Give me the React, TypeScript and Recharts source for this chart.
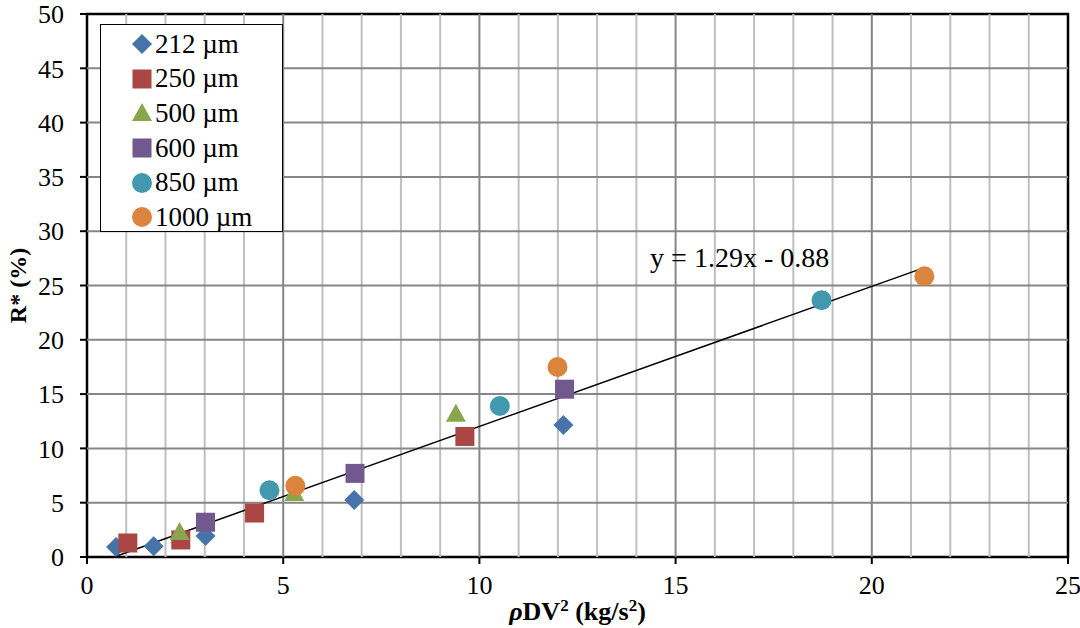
import React from "react";
import {
  ScatterChart,
  Scatter,
  XAxis,
  YAxis,
  ReferenceLine,
  ReferenceArea,
  ReferenceDot,
} from "recharts";

/* ---------- data ---------- */
type Pt = { x: number; y: number };

const s212: Pt[] = [
  { x: 0.74, y: 0.92 },
  { x: 1.7, y: 1.0 },
  { x: 3.02, y: 1.93 },
  { x: 6.81, y: 5.25 },
  { x: 12.14, y: 12.15 },
];
const s250: Pt[] = [
  { x: 1.04, y: 1.29 },
  { x: 2.39, y: 1.57 },
  { x: 4.27, y: 4.05 },
  { x: 9.63, y: 11.1 },
];
const s500: Pt[] = [
  { x: 2.36, y: 2.3 },
  { x: 5.28, y: 5.9 },
  { x: 9.4, y: 13.2 },
];
const s600: Pt[] = [
  { x: 3.02, y: 3.2 },
  { x: 6.83, y: 7.7 },
  { x: 12.17, y: 15.45 },
];
const s850: Pt[] = [
  { x: 4.65, y: 6.15 },
  { x: 10.52, y: 13.9 },
  { x: 18.72, y: 23.65 },
];
const s1000: Pt[] = [
  { x: 5.31, y: 6.55 },
  { x: 11.99, y: 17.5 },
  { x: 21.34, y: 25.85 },
];

const xTicks = [0, 5, 10, 15, 20, 25];
const yTicks = [0, 5, 10, 15, 20, 25, 30, 35, 40, 45, 50];
const minorX = [1, 2, 3, 4, 6, 7, 8, 9, 11, 12, 13, 14, 16, 17, 18, 19, 21, 22, 23, 24];

// trendline y = 1.29x - 0.88, drawn over the fitted x range
const slope = 1.29;
const intercept = -0.88;
const fitRange = [0.74, 21.34];
const trendLabel = "y = 1.29x - 0.88";

/* ---------- styles ---------- */
const FONT = "'Liberation Serif', Tinos, 'DejaVu Serif', serif";
const C = {
  blue: "#4673AA",
  red: "#AA4643",
  green: "#89A54E",
  purple: "#71588F",
  teal: "#4198AF",
  orange: "#DB843D",
};

/* ---------- marker shapes ---------- */
const Diamond = ({ cx, cy, fill }: any) => (
  <path d={`M${cx},${cy - 10} L${cx + 10},${cy} L${cx},${cy + 10} L${cx - 10},${cy} Z`} fill={fill} />
);
const Square = ({ cx, cy, fill }: any) => (
  <rect x={cx - 9.5} y={cy - 9.5} width={19} height={19} fill={fill} />
);
const Triangle = ({ cx, cy, fill }: any) => (
  <path d={`M${cx},${cy - 10} L${cx + 10},${cy + 8} L${cx - 10},${cy + 8} Z`} fill={fill} />
);
const Circle = ({ cx, cy, fill }: any) => <circle cx={cx} cy={cy} r={10} fill={fill} />;

const series = [
  { name: "212 µm", data: s212, color: C.blue, Shape: Diamond },
  { name: "250 µm", data: s250, color: C.red, Shape: Square },
  { name: "500 µm", data: s500, color: C.green, Shape: Triangle },
  { name: "600 µm", data: s600, color: C.purple, Shape: Square },
  { name: "850 µm", data: s850, color: C.teal, Shape: Circle },
  { name: "1000 µm", data: s1000, color: C.orange, Shape: Circle },
];

/* ---------- legend (boxed, top-left of plot) ---------- */
const LegendBox = () => (
  <div
    style={{
      position: "absolute",
      left: 100,
      top: 24,
      width: 183,
      height: 208,
      border: "1.5px solid #000",
      background: "#fff",
      boxSizing: "border-box",
      fontFamily: FONT,
      fontSize: 27,
      lineHeight: 1,
      paddingTop: 2,
    }}
  >
    {series.map((s) => (
      <div key={s.name} style={{ height: 34.6, display: "flex", alignItems: "center" }}>
        <svg width={24} height={24} style={{ marginLeft: 29, marginRight: 1 }}>
          <s.Shape cx={12} cy={12} fill={s.color} />
        </svg>
        <span>{s.name}</span>
      </div>
    ))}
  </div>
);

/* ---------- axis titles ---------- */
const XTitle = ({ viewBox }: any) => {
  const cx = viewBox.x + viewBox.width / 2;
  return (
    <text x={cx} y={620} textAnchor="middle" fill="#000" style={{ fontFamily: FONT, fontSize: 26, fontWeight: "bold" }}>
      <tspan fontStyle="italic">ρ</tspan>
      <tspan>DV</tspan>
      <tspan fontSize={17} dy={-9}>2</tspan>
      <tspan dy={9}> (kg/s</tspan>
      <tspan fontSize={17} dy={-9}>2</tspan>
      <tspan dy={9}>)</tspan>
    </text>
  );
};

const YTitle = ({ viewBox }: any) => {
  const cy = viewBox.y + viewBox.height / 2;
  return (
    <text
      x={26}
      y={cy}
      transform={`rotate(-90, 26, ${cy})`}
      textAnchor="middle"
      fill="#000"
      style={{ fontFamily: FONT, fontSize: 24, fontWeight: "bold" }}
    >
      R* (%)
    </text>
  );
};

const tickText = { fontFamily: FONT, fontSize: 26, fill: "#000" };

/* ---------- component ---------- */
export default function App() {
  return (
    <div
      style={{ position: "absolute", left: 0, top: 0, width: 1080, height: 628, background: "#fff", fontFamily: FONT }}
    >
      <ScatterChart width={1080} height={628} margin={{ top: 14, right: 12, bottom: 0, left: 0 }}>
        <XAxis
          type="number"
          dataKey="x"
          domain={[0, 25]}
          ticks={xTicks}
          height={71}
          tickFormatter={() => ""}
          tickSize={7}
          axisLine={false}
          tickLine={{ stroke: "#000", strokeWidth: 2 }}
          label={<XTitle />}
        />
        <YAxis
          type="number"
          dataKey="y"
          domain={[0, 50]}
          ticks={yTicks}
          width={87}
          tickFormatter={() => ""}
          tickSize={7}
          axisLine={false}
          tickLine={{ stroke: "#000", strokeWidth: 2 }}
          label={<YTitle />}
        />
        {minorX.map((v) => (
          <ReferenceLine key={`mx${v}`} x={v} stroke="#BFBFBF" strokeWidth={2} />
        ))}
        {xTicks.slice(1, -1).map((v) => (
          <ReferenceLine key={`Mx${v}`} x={v} stroke="#868686" strokeWidth={2} />
        ))}
        {yTicks.slice(1, -1).map((v) => (
          <ReferenceLine key={`My${v}`} y={v} stroke="#868686" strokeWidth={2} />
        ))}
        <ReferenceArea x1={0} x2={25} y1={0} y2={50} fill="none" stroke="#000" strokeWidth={2.5} />
        {/* tick labels, placed through the axis scales */}
        {xTicks.map((v) => (
          <ReferenceDot
            key={`xl${v}`}
            x={v}
            y={0}
            r={0}
            stroke="none"
            ifOverflow="visible"
            label={{ value: String(v), position: "bottom", offset: 19, ...tickText }}
          />
        ))}
        {yTicks.map((v) => (
          <ReferenceDot
            key={`yl${v}`}
            x={0}
            y={v}
            r={0}
            stroke="none"
            ifOverflow="visible"
            label={{ value: String(v), position: "left", offset: 23, ...tickText }}
          />
        ))}
        <ReferenceLine
          segment={[
            { x: fitRange[0], y: slope * fitRange[0] + intercept },
            { x: fitRange[1], y: slope * fitRange[1] + intercept },
          ]}
          stroke="#000"
          strokeWidth={1.5}
          ifOverflow="visible"
        />
        <ReferenceDot
          x={14.35}
          y={27.6}
          r={0}
          stroke="none"
          label={{ value: trendLabel, position: "right", offset: 0, fontFamily: FONT, fontSize: 28, fill: "#000" }}
        />
        {series.map((s) => (
          <Scatter
            key={s.name}
            name={s.name}
            data={s.data}
            fill={s.color}
            isAnimationActive={false}
            shape={(p: any) => <s.Shape cx={p.cx} cy={p.cy} fill={s.color} />}
          />
        ))}
      </ScatterChart>
      <LegendBox />
    </div>
  );
}
